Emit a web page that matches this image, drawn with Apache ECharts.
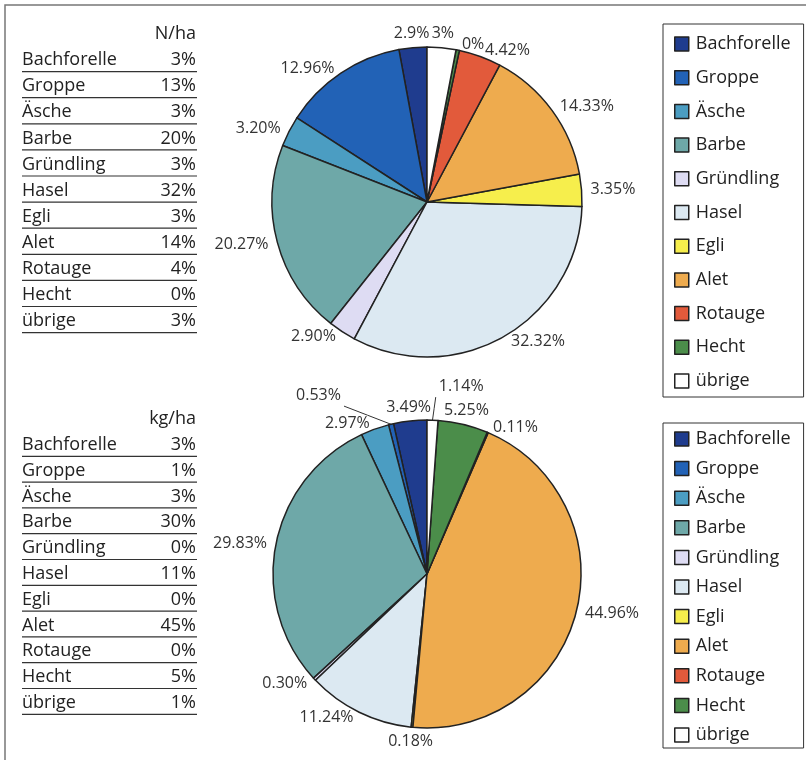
<!DOCTYPE html>
<html>
<head>
<meta charset="utf-8">
<script src="https://cdn.jsdelivr.net/npm/echarts@6/dist/echarts.min.js"></script>
<style>
  html, body { margin: 0; padding: 0; background: #fff; }
  #main { width: 807px; height: 760px; }
</style>
</head>
<body>
<div id="main"></div>
<script>
// Fischarten (Reihenfolge wie Legende)
var species = ['Bachforelle', 'Groppe', 'Äsche', 'Barbe', 'Gründling', 'Hasel', 'Egli', 'Alet', 'Rotauge', 'Hecht', 'übrige'];
var colors = ['#1f3c8e', '#2262b6', '#4b9dc2', '#6ea8a8', '#dedcf3', '#dce9f2', '#f6ee4c', '#eeab4e', '#e25a3b', '#4b8d4a', '#ffffff'];

// Individuendichte N/ha
var shareN = [2.9, 12.96, 3.20, 20.27, 2.90, 32.32, 3.35, 14.33, 4.42, 0.35, 3];
var labelN = ['2.9%', '12.96%', '3.20%', '20.27%', '2.90%', '32.32%', '3.35%', '14.33%', '4.42%', '0%', '3%'];
var tableN = [3, 13, 3, 20, 3, 32, 3, 14, 4, 0, 3];

// Biomasse kg/ha
var shareKg = [3.49, 0.53, 2.97, 29.83, 0.30, 11.24, 0.18, 44.96, 0.11, 5.25, 1.14];
var labelKg = ['3.49%', '0.53%', '2.97%', '29.83%', '0.30%', '11.24%', '0.18%', '44.96%', '0.11%', '5.25%', '1.14%'];
var tableKg = [3, 1, 3, 30, 0, 11, 0, 45, 0, 5, 1];

var FONT = '"Open Sans", "DejaVu Sans", sans-serif';
var INK = '#222';

var pieTop = { center: [427, 202], r: 155 };
var pieBottom = { center: [427, 574], r: 154 };

var myChart = echarts.init(document.getElementById('main'));

// Winkel der Sektormitte (Start oben, gegen den Uhrzeigersinn)
function midAngle(values, idx) {
    var sum = 0, before = 0;
    values.forEach(function (v, i) { sum += v; if (i < idx) before += v; });
    return Math.PI / 2 + (before + values[idx] / 2) / sum * Math.PI * 2;
}

function clamp(v, a, b) { return Math.max(a, Math.min(b, v)); }

// Beschriftungen fast senkrecht über/unter dem Kreis werden mittig gesetzt,
// Führungslinien gehen gerade vom Kreisrand zur Beschriftung
function labelRule(values, pie, limit, lined) {
    return function (p) {
        var a = midAngle(values, p.dataIndex);
        var ux = Math.cos(a), uy = -Math.sin(a);
        var rc = p.labelRect;
        if (lined.indexOf(p.dataIndex) >= 0) {
            var ex = pie.center[0] + ux * pie.r, ey = pie.center[1] + uy * pie.r;
            var tx = clamp(ex, rc.x - 3, rc.x + rc.width + 3);
            var ty = clamp(ey, rc.y - 3, rc.y + rc.height + 3);
            return { labelLinePoints: [[ex, ey], [(ex + tx) / 2, (ey + ty) / 2], [tx, ty]] };
        }
        if (Math.abs(ux) >= limit) return {};
        var t = Math.min(rc.width / 2 / Math.max(Math.abs(ux), 1e-6), rc.height / 2 / Math.abs(uy));
        var d = pie.r + 6 + t;
        return {
            x: pie.center[0] + ux * d,
            y: pie.center[1] + uy * d,
            align: 'center',
            verticalAlign: 'middle'
        };
    };
}

function pieData(values, labels, lines) {
    return values.map(function (v, i) {
        var item = {
            name: species[i],
            value: v,
            label: { formatter: labels[i] },
            itemStyle: { color: colors[i] }
        };
        if (lines[i]) {
            item.labelLine = { show: true, length: lines[i][0], length2: lines[i][1] };
        }
        return item;
    });
}

function table(title, values, y0, step) {
    var els = [];
    var font = '18px ' + FONT;
    els.push({
        type: 'text', x: 196, y: y0,
        style: { text: title, fill: INK, font: font, textAlign: 'right', textVerticalAlign: 'middle' }
    });
    species.forEach(function (s, i) {
        var y = y0 + step * (i + 1);
        els.push({
            type: 'text', x: 22, y: y,
            style: { text: s, fill: INK, font: font, textAlign: 'left', textVerticalAlign: 'middle' }
        });
        els.push({
            type: 'text', x: 196, y: y,
            style: { text: values[i] + '%', fill: INK, font: font, textAlign: 'right', textVerticalAlign: 'middle' }
        });
        els.push({
            type: 'line',
            shape: { x1: 22, y1: y + 11.5, x2: 197, y2: y + 11.5 },
            style: { stroke: '#333', lineWidth: 1.2 }
        });
    });
    return els;
}

function legend(top, gap, pad) {
    return {
        data: species,
        orient: 'vertical',
        left: 663,
        top: top,
        icon: 'rect',
        itemWidth: 14,
        itemHeight: 14,
        itemGap: gap,
        padding: pad,
        borderColor: '#333',
        borderWidth: 1,
        selectedMode: false,
        itemStyle: { borderColor: INK, borderWidth: 1.5 },
        textStyle: { fontFamily: FONT, fontSize: 18, color: INK, padding: [0, 0, 0, 2] }
    };
}

var pieCommon = {
    type: 'pie',
    startAngle: 90,
    clockwise: false,
    avoidLabelOverlap: false,
    emphasis: { disabled: true },
    itemStyle: { borderColor: INK, borderWidth: 1.5 },
    label: { show: true, position: 'outside', distanceToLabelLine: 3, fontFamily: FONT, fontSize: 16, color: '#333' },
    labelLine: { show: false, length: 6, length2: 0, lineStyle: { color: '#333', width: 1 } }
};

var linesKg = [];
linesKg[1] = [30, 40];  // Groppe
linesKg[10] = [34, 2];  // übrige

myChart.setOption({
    animation: false,
    graphic: [
        {
            type: 'polyline',
            shape: { points: [[5, 760], [5, 5], [806, 5]] },
            style: { stroke: '#777', lineWidth: 1.5, fill: null }
        }
    ].concat(table('N/ha', tableN, 34, 26.1)).concat(table('kg/ha', tableKg, 419, 25.8)),
    legend: [
        legend(24, 15.7, [11, 13, 7, 11]),
        legend(423, 11.6, [7, 13, 4, 11])
    ],
    series: [
        Object.assign({}, pieCommon, {
            name: 'N/ha',
            center: pieTop.center,
            radius: pieTop.r,
            labelLayout: labelRule(shareN, pieTop, 0.15, []),
            data: pieData(shareN, labelN, [])
        }),
        Object.assign({}, pieCommon, {
            name: 'kg/ha',
            center: pieBottom.center,
            radius: pieBottom.r,
            labelLayout: labelRule(shareKg, pieBottom, 0.25, [1, 10]),
            data: pieData(shareKg, labelKg, linesKg)
        })
    ]
});
</script>
</body>
</html>
